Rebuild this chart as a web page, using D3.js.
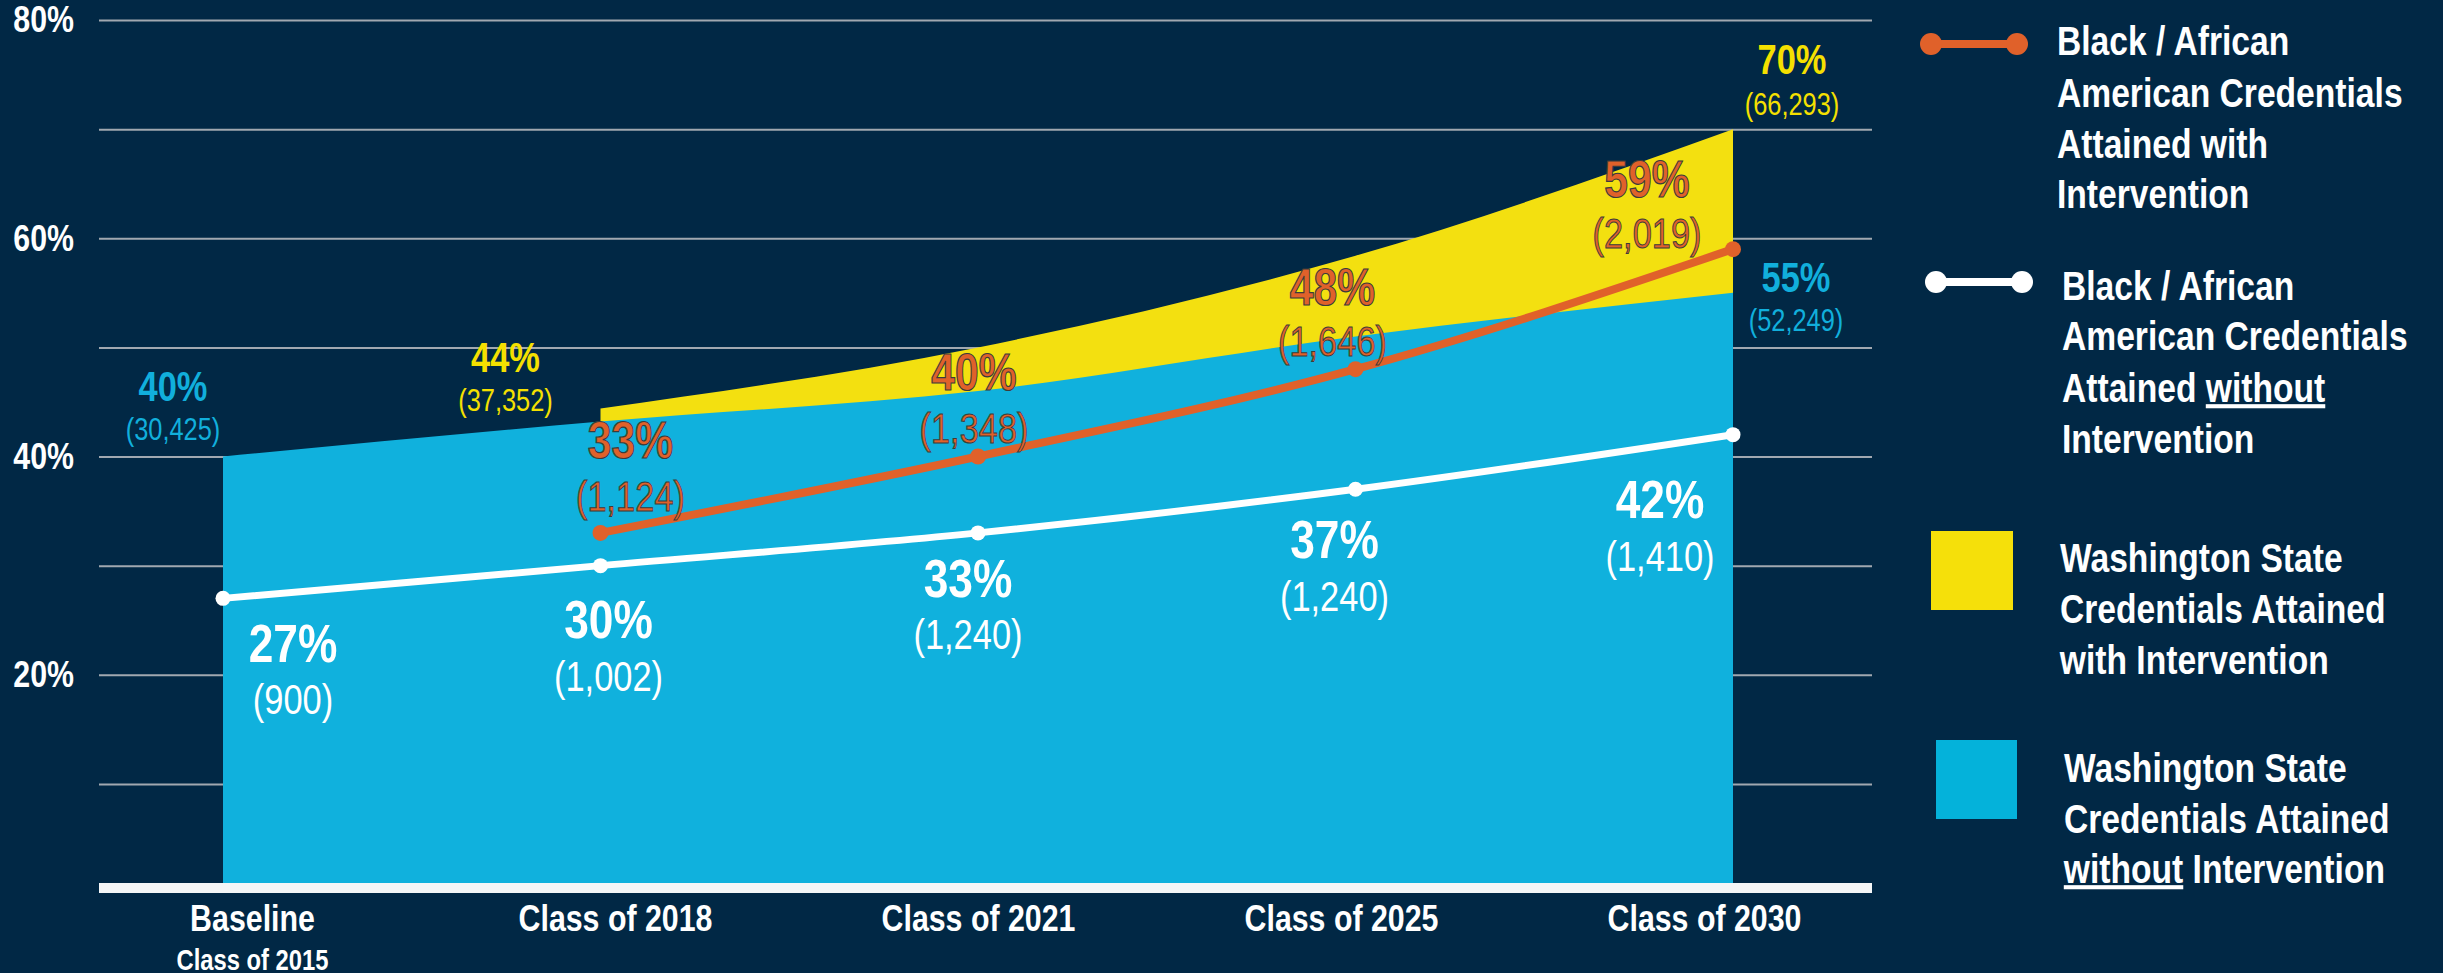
<!DOCTYPE html>
<html>
<head>
<meta charset="utf-8">
<script src="https://cdn.jsdelivr.net/npm/d3@7"></script>
<style>
  html, body { margin: 0; padding: 0; background: #012845; }
  #chart { width: 2443px; height: 973px; }
  text { font-family: "Liberation Sans", Arial, sans-serif; }
  /* narrow the Arial-metric face to look like Arial Narrow */
  .nc, .nl, .nr { transform-box: fill-box; transform: scaleX(0.82); }
  .nc { transform-origin: center; }
  .nl { transform-origin: left center; }
  .nr { transform-origin: right center; }
</style>
</head>
<body>
<div id="chart"></div>
<script>
var categories = ["Baseline", "Class of 2018", "Class of 2021", "Class of 2025", "Class of 2030"];

// percent of population with a credential
var waWithout = [40, 43.2, 46, 51, 55];
var waWith = [null, 44.4, 50, 58.4, 70];
var blackWith = [null, 33, 40, 48, 59];
var blackWithout = [27, 30, 33, 37, 42];

// head counts shown under the percents
var waWithoutCounts = ["30,425", null, null, null, "52,249"];
var waWithCounts = [null, "37,352", null, null, "66,293"];
var blackWithCounts = [null, "1,124", "1,348", "1,646", "2,019"];
var blackWithoutCounts = ["900", "1,002", "1,240", "1,240", "1,410"];

var gridTicks = [10, 20, 30, 40, 50, 60, 70, 80];
var yTickLabels = [20, 40, 60, 80];

var colors = {
	bg: "#012845",
	blue: "#10b1dd",
	yellow: "#f3e010",
	orange: "#e0612a",
	white: "#ffffff",
	grid: "#a1a8b0"
};

function plot() {

	var width = 2443, height = 973;

	var svg = d3.select("#chart").append("svg")
	.attr("width", width)
	.attr("height", height);

	svg.append("rect")
	.attr("width", width)
	.attr("height", height)
	.attr("fill", colors.bg);

	var x = d3.scalePoint()
	.domain(categories)
	.range([223, 1733]);

	var xLab = d3.scalePoint()
	.domain(categories)
	.range([252, 1704]);

	var y = d3.scaleLinear()
	.domain([0, 80])
	.range([893, 20]);

	// gridlines
	var grid = svg.append("g")
	.attr("transform", "translate(99,0)")
	.call(d3.axisRight(y).tickValues(gridTicks).tickSize(1773).tickFormat(""));
	grid.select(".domain").remove();
	grid.selectAll("line").attr("stroke", colors.grid).attr("stroke-width", 2);

	var yAxis = svg.append("g")
	.attr("transform", "translate(99,0)")
	.call(d3.axisLeft(y).tickValues(yTickLabels).tickSize(0).tickPadding(25)
		.tickFormat(function(d) { return d + "%"; }));
	yAxis.select(".domain").remove();
	yAxis.selectAll("text")
	.attr("class", "nr")
	.attr("fill", colors.white)
	.style("font-size", "37px")
	.style("font-weight", "bold");

	// data rows
	var rows = categories.map(function(c, i) {
		return {cat: c, without: waWithout[i], withI: waWith[i], bw: blackWith[i], bwo: blackWithout[i]};
	});

	var yellowArea = d3.area()
	.defined(function(d) { return d.withI != null; })
	.curve(d3.curveMonotoneX)
	.x(function(d) { return x(d.cat); })
	.y0(y(0))
	.y1(function(d) { return y(d.withI); });

	var blueArea = d3.area()
	.curve(d3.curveMonotoneX)
	.x(function(d) { return x(d.cat); })
	.y0(y(0))
	.y1(function(d) { return y(d.without); });

	svg.append("path")
	.datum(rows)
	.attr("d", yellowArea)
	.attr("fill", colors.yellow);

	svg.append("path")
	.datum(rows)
	.attr("d", blueArea)
	.attr("fill", colors.blue);

	// x axis bar
	svg.append("line")
	.attr("x1", 99).attr("x2", 1872)
	.attr("y1", y(0) - 5).attr("y2", y(0) - 5)
	.attr("stroke", "#f4f6f7")
	.attr("stroke-width", 10);

	var xAxis = svg.append("g")
	.attr("transform", "translate(0," + y(0) + ")")
	.call(d3.axisBottom(xLab).tickSize(0).tickPadding(12));
	xAxis.select(".domain").remove();
	xAxis.selectAll("text")
	.attr("class", "nc")
	.attr("fill", colors.white)
	.style("font-size", "37px")
	.style("font-weight", "bold");
	xAxis.selectAll(".tick").filter(function(d) { return d === "Baseline"; })
	.select("text")
	.append("tspan")
	.attr("x", 0)
	.attr("dy", "39px")
	.style("font-size", "29px")
	.text("Class of 2015");

	// lines
	var orangeLine = d3.line()
	.defined(function(d) { return d.bw != null; })
	.curve(d3.curveMonotoneX)
	.x(function(d) { return x(d.cat); })
	.y(function(d) { return y(d.bw); });

	var whiteLine = d3.line()
	.curve(d3.curveMonotoneX)
	.x(function(d) { return x(d.cat); })
	.y(function(d) { return y(d.bwo); });

	svg.append("path")
	.datum(rows.filter(function(d) { return d.bw != null; }))
	.attr("d", orangeLine)
	.attr("fill", "none")
	.attr("stroke", colors.orange)
	.attr("stroke-width", 8);

	svg.selectAll(".odot")
	.data(rows.filter(function(d) { return d.bw != null; }))
	.enter().append("circle")
	.attr("class", "odot")
	.attr("cx", function(d) { return x(d.cat); })
	.attr("cy", function(d) { return y(d.bw); })
	.attr("r", 8)
	.attr("fill", colors.orange);

	svg.append("path")
	.datum(rows)
	.attr("d", whiteLine)
	.attr("fill", "none")
	.attr("stroke", colors.white)
	.attr("stroke-width", 7);

	svg.selectAll(".wdot")
	.data(rows)
	.enter().append("circle")
	.attr("class", "wdot")
	.attr("cx", function(d) { return x(d.cat); })
	.attr("cy", function(d) { return y(d.bwo); })
	.attr("r", 7.5)
	.attr("fill", colors.white);

	// value labels: [dx, dy of percent, dy of count] from the point
	function labels(values, counts, offs, color, pctSize, cntSize, outline) {
		values.forEach(function(v, i) {
			if (v == null || counts[i] == null) return;
			var o = offs[i];
			var px = x(categories[i]) + o[0];
			var py = y(v);
			var t1 = svg.append("text")
			.attr("class", "nc")
			.attr("x", px).attr("y", py + o[1])
			.attr("text-anchor", "middle")
			.attr("fill", color)
			.style("font-size", pctSize + "px")
			.style("font-weight", "bold")
			.text(Math.round(v) + "%");
			var t2 = svg.append("text")
			.attr("class", "nc")
			.attr("x", px).attr("y", py + o[2])
			.attr("text-anchor", "middle")
			.attr("fill", color)
			.style("font-size", cntSize + "px")
			.text("(" + counts[i] + ")");
			if (outline) {
				t1.attr("stroke", "#3b3b3b").attr("stroke-width", 1.2);
				t2.attr("stroke", "#3b3b3b").attr("stroke-width", 1);
			}
		});
	}

	labels(waWithout, waWithoutCounts,
		[[-50, -55, -16], null, null, null, [63, -1, 38]],
		"#11afdc", 42, 31, false);
	labels(waWith, waWithCounts,
		[null, [-95, -36, 3], null, null, [59, -55, -14]],
		"#f5e000", 42, 31, false);
	labels(blackWith, blackWithCounts,
		[null, [30, -75, -22], [-4, -66, -13], [-23, -64, -13], [-86, -52, -1]],
		colors.orange, 52, 42, true);
	labels(blackWithout, blackWithoutCounts,
		[[70, 64, 116], [8, 72, 125], [-10, 64, 116], [-21, 69, 122], [-73, 83, 136]],
		colors.white, 54, 42, false);

	// legend
	var legend = svg.append("g")
	.attr("fill", colors.white)
	.style("font-size", "41px")
	.style("font-weight", "bold");

	function legendLine(x1, x2, cy, color) {
		legend.append("line")
		.attr("x1", x1).attr("x2", x2)
		.attr("y1", cy).attr("y2", cy)
		.attr("stroke", color)
		.attr("stroke-width", 8);
		[x1, x2].forEach(function(cx) {
			legend.append("circle")
			.attr("cx", cx).attr("cy", cy).attr("r", 11)
			.attr("fill", color);
		});
	}

	function legendText(tx, baselines, lines) {
		lines.forEach(function(parts, i) {
			var t = legend.append("text")
			.attr("class", "nl")
			.attr("x", tx)
			.attr("y", baselines[i]);
			parts.forEach(function(p) {
				var s = t.append("tspan").text(p.t);
				if (p.u) s.style("text-decoration", "underline");
			});
		});
	}

	legendLine(1931, 2017, 44, colors.orange);
	legendText(2057, [55, 107, 158, 208], [
		[{t: "Black / African"}],
		[{t: "American Credentials"}],
		[{t: "Attained with"}],
		[{t: "Intervention"}]
	]);

	legendLine(1936, 2022, 282, colors.white);
	legendText(2062, [300, 350, 402, 453], [
		[{t: "Black / African"}],
		[{t: "American Credentials"}],
		[{t: "Attained "}, {t: "without", u: true}],
		[{t: "Intervention"}]
	]);

	legend.append("rect")
	.attr("x", 1931).attr("y", 531)
	.attr("width", 82).attr("height", 79)
	.attr("fill", "#f5e00a");
	legendText(2060, [572, 623, 674], [
		[{t: "Washington State"}],
		[{t: "Credentials Attained"}],
		[{t: "with Intervention"}]
	]);

	legend.append("rect")
	.attr("x", 1936).attr("y", 740)
	.attr("width", 81).attr("height", 79)
	.attr("fill", "#04b2da");
	legendText(2064, [782, 833, 883], [
		[{t: "Washington State"}],
		[{t: "Credentials Attained"}],
		[{t: "without", u: true}, {t: " Intervention"}]
	]);
}

document.addEventListener("DOMContentLoaded", function(event) {
	plot();
});
</script>
</body>
</html>
